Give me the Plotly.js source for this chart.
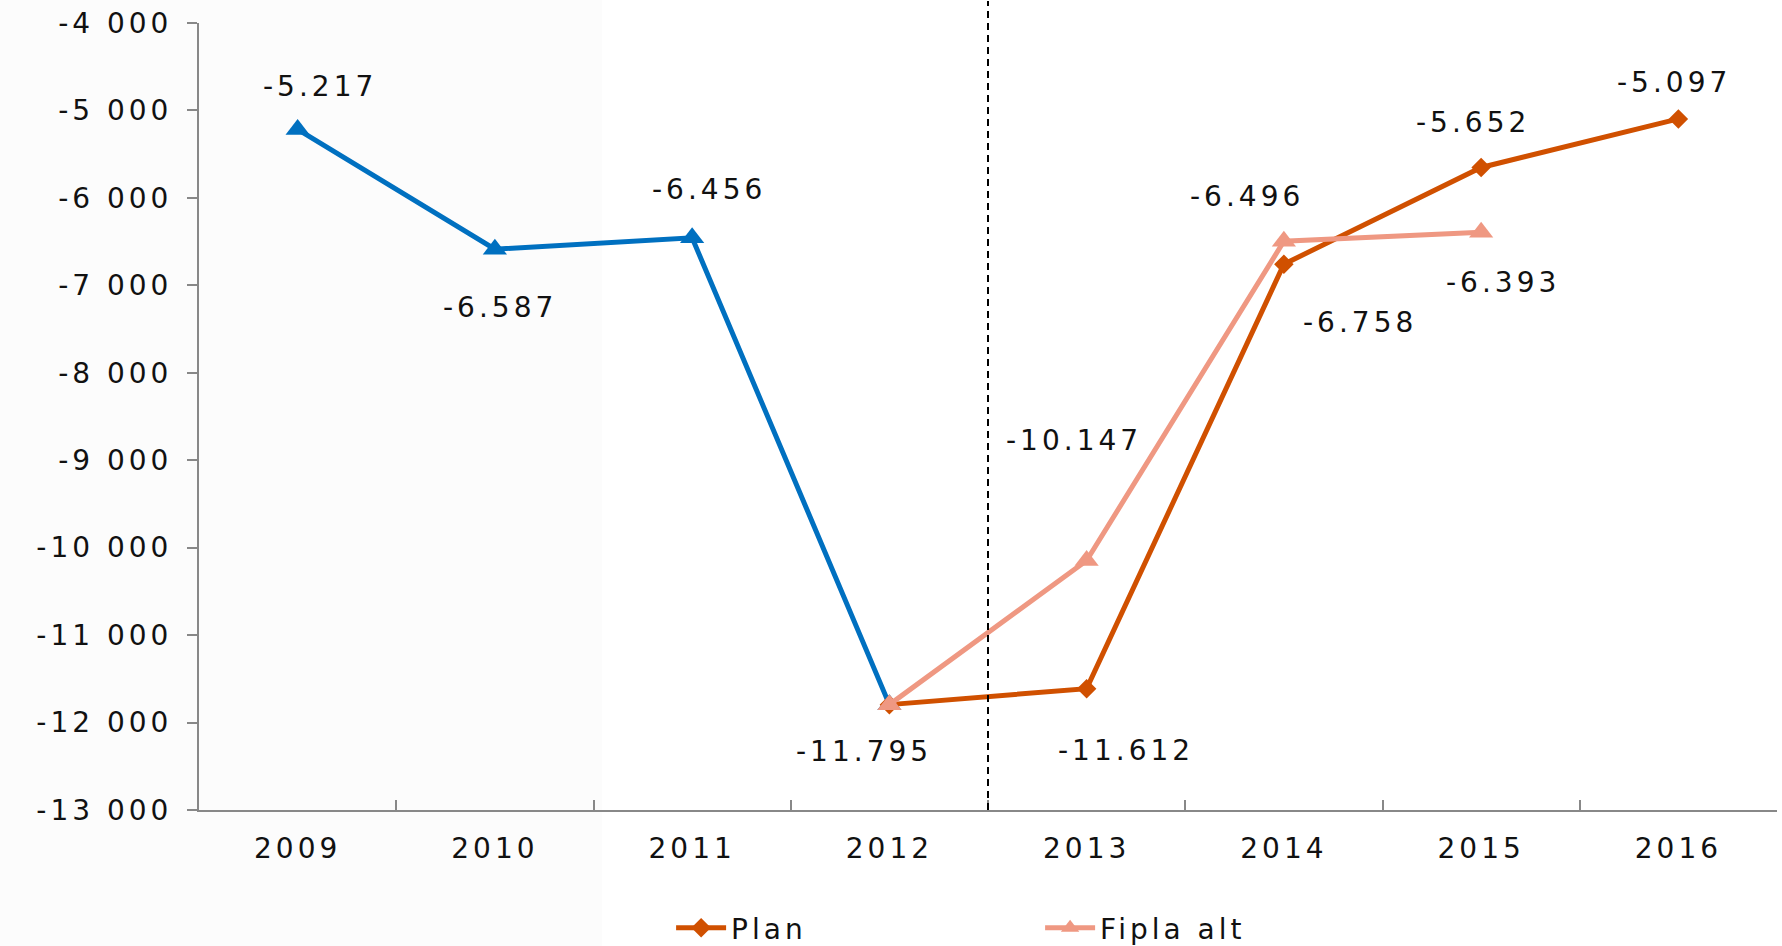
<!DOCTYPE html>
<html>
<head>
<meta charset="utf-8">
<script src="https://cdn.plot.ly/plotly-3.0.1.min.js"></script>
<style>
  html, body { margin: 0; padding: 0; background: #fff; }
  #chart { width: 1782px; height: 946px; }
  /* the source font is a wide, extended face; spread DejaVu a little */
  #chart text { letter-spacing: 4px; }
  #err { position: absolute; left: 10px; top: 10px; color: red; font: 14px monospace; }
</style>
</head>
<body>
<div id="chart"></div>
<div id="err"></div>
<script>
var years = ['2009', '2010', '2011', '2012', '2013', '2014', '2015', '2016'];

var histYears = ['2009', '2010', '2011', '2012'];
var histValues = [-5217, -6587, -6456, -11795];

var planYears = ['2012', '2013', '2014', '2015', '2016'];
var planValues = [-11795, -11612, -6758, -5652, -5097];

var fiplaYears = ['2012', '2013', '2014', '2015'];
var fiplaValues = [-11795, -10147, -6496, -6393];

var yTicks = [-13000, -12000, -11000, -10000, -9000, -8000, -7000, -6000, -5000, -4000];

var blue = '#0070C0';
var orange = '#D05000';
var salmon = '#EF9882';
var font = 'DejaVu Sans, sans-serif';
var txtSize = 28;

function fmt(v) {
  return (v / 1000).toFixed(3);
}

function tickText(v) {
  // "-4 000" style with a plain hyphen
  var s = String(Math.abs(v));
  return '-' + s.slice(0, s.length - 3) + ' ' + s.slice(-3);
}

// label placement: [year, value, xshift, yshift]
var labels = [
  [histYears[0], histValues[0], 22, 43],
  [histYears[1], histValues[1], 5, -58],
  [histYears[2], histValues[2], 17, 48],
  [histYears[3], histValues[3], -25, -47],
  [fiplaYears[1], fiplaValues[1], -13, 120],
  [planYears[1], planValues[1], 39, -62],
  [fiplaYears[2], fiplaValues[2], -37, 45],
  [planYears[2], planValues[2], 76, -58],
  [planYears[3], planValues[3], -8, 45],
  [fiplaYears[3], fiplaValues[3], 22, -50],
  [planYears[4], planValues[4], -4, 36]
];

var annotations = labels.map(function(l) {
  return {
    x: years.indexOf(l[0]), y: l[1], xref: 'x', yref: 'y',
    text: fmt(l[1]),
    showarrow: false,
    xanchor: 'center', yanchor: 'middle',
    xshift: l[2], yshift: l[3],
    font: {family: font, size: txtSize, color: '#111'}
  };
});

var histTrace = {
  x: histYears, y: histValues,
  type: 'scatter', mode: 'lines+markers',
  name: 'Historikk',
  showlegend: false,
  line: {color: blue, width: 5},
  marker: {color: blue, symbol: 'triangle-up', size: 21}
};

var planTrace = {
  x: planYears, y: planValues,
  type: 'scatter', mode: 'lines+markers',
  name: 'Plan',
  line: {color: orange, width: 5},
  marker: {color: orange, symbol: 'diamond', size: 15}
};

var fiplaTrace = {
  x: fiplaYears, y: fiplaValues,
  type: 'scatter', mode: 'lines+markers',
  name: 'Fipla alt',
  line: {color: salmon, width: 5},
  marker: {color: salmon, symbol: 'triangle-up', size: 21}
};

var layout = {
  width: 1782,
  height: 946,
  paper_bgcolor: '#ffffff',
  plot_bgcolor: 'rgba(0,0,0,0)',
  margin: {l: 199, r: 5, t: 23, b: 136, pad: 0, autoexpand: false},
  font: {family: font, size: txtSize, color: '#111'},
  showlegend: true,
  legend: {
    orientation: 'h',
    xref: 'container', yref: 'container',
    x: 0.3766, xanchor: 'left',
    y: 0.019, yanchor: 'middle',
    itemwidth: 50,
    entrywidth: 304, entrywidthmode: 'pixels',
    font: {family: font, size: txtSize, color: '#111'},
    bgcolor: 'rgba(0,0,0,0)'
  },
  xaxis: {
    type: 'category',
    categoryorder: 'array',
    categoryarray: years,
    range: [-0.5, 7.5],
    automargin: false,
    showgrid: false,
    zeroline: false,
    showline: true,
    linecolor: '#888',
    linewidth: 2,
    ticks: 'inside',
    tickson: 'boundaries',
    ticklen: 10,
    tickwidth: 2,
    tickcolor: '#888',
    ticklabelstandoff: 12,
    tickfont: {family: font, size: txtSize, color: '#111'}
  },
  yaxis: {
    range: [-13000, -4000],
    automargin: false,
    tickmode: 'array',
    tickvals: yTicks,
    ticktext: yTicks.map(tickText),
    showgrid: false,
    zeroline: false,
    showline: true,
    linecolor: '#888',
    linewidth: 2,
    ticks: 'outside',
    ticklen: 10,
    tickwidth: 2,
    tickcolor: '#888',
    ticklabelstandoff: 9,
    tickfont: {family: font, size: txtSize, color: '#111'}
  },
  shapes: [
    {
      type: 'rect', layer: 'below',
      xref: 'paper', yref: 'paper',
      x0: -0.127, x1: 0.2554, y0: -0.175, y1: 1.03,
      line: {width: 0},
      fillcolor: '#fcfcfc'
    },
    {
      type: 'line', layer: 'above',
      xref: 'x', yref: 'paper',
      x0: 3.5, x1: 3.5, y0: 0, y1: 1.028,
      line: {color: '#000', width: 2, dash: '7px,5px'}
    }
  ],
  annotations: annotations
};

Plotly.newPlot('chart', [histTrace, planTrace, fiplaTrace], layout, {displayModeBar: false, staticPlot: true})
  .catch(function(e) { document.getElementById('err').textContent = String(e); });
</script>
</body>
</html>
